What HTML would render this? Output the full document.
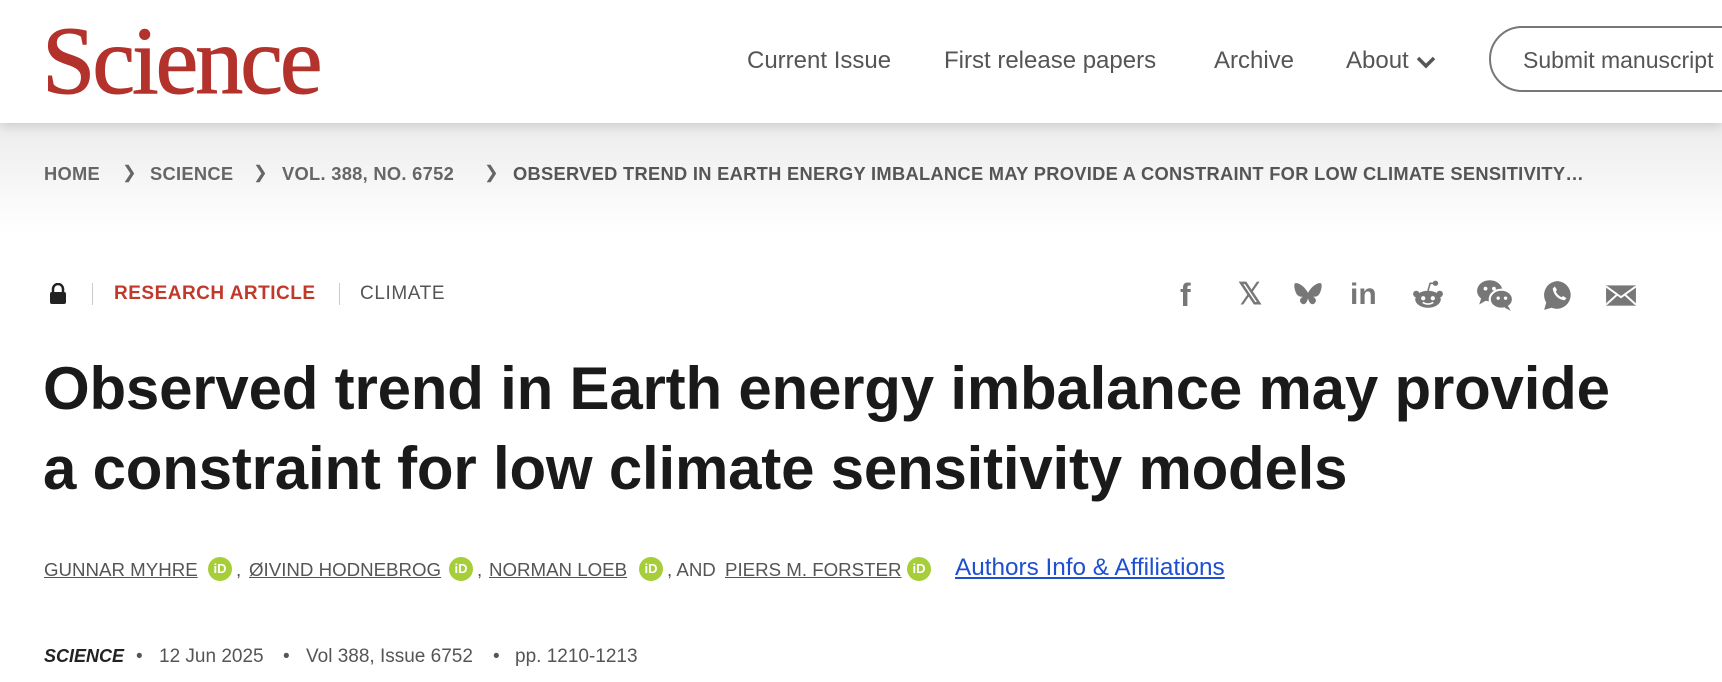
<!DOCTYPE html>
<html><head><meta charset="utf-8"><style>
*{margin:0;padding:0;box-sizing:border-box}
body{width:1722px;height:682px;overflow:hidden;background:#fff;font-family:"Liberation Sans",sans-serif;position:relative}
.a{position:absolute;white-space:nowrap}
header{position:absolute;left:0;top:0;width:1722px;height:123px;background:#fff;box-shadow:0 4px 10px rgba(0,0,0,.12);z-index:2}
.band{position:absolute;left:0;top:123px;width:1722px;height:110px;background:linear-gradient(#ececec,#fff)}
.nav{font-size:24px;color:#555;top:47px}
.bc{font-size:18.3px;font-weight:bold;color:#666;top:163px;letter-spacing:.3px}
.chev{font-size:17.5px;color:#666;top:162px}
.auth{font-size:18.7px;color:#555;top:559px;text-decoration:underline}
.orc{width:24px;height:24px;border-radius:50%;background:#a6ce39;color:#fff;font-size:13px;font-weight:bold;text-align:center;line-height:24px;top:557px}
.meta{font-size:19px;color:#555;top:646px}
.ic{top:279px;width:32px;height:32px}
</style></head><body>
<header>
<div class="a" style="left:42px;top:9px;font-family:'Liberation Serif',serif;font-size:96px;color:#b3322c;letter-spacing:-3px;line-height:104px;-webkit-text-stroke:1px #b3322c">Science</div>
<div class="a nav" style="left:747px">Current Issue</div>
<div class="a nav" style="left:944px">First release papers</div>
<div class="a nav" style="left:1214px">Archive</div>
<div class="a nav" style="left:1346px">About <svg width="22" height="14" viewBox="0 0 22 14" style="vertical-align:middle"><path d="M3 3l8 8 8-8" stroke="#555" stroke-width="3.5" fill="none"/></svg></div>
<div class="a" style="left:1489px;top:26px;width:280px;height:66px;border:2px solid #777;border-radius:33px;font-size:23px;color:#555;padding:19px 0 0 32px">Submit manuscript</div>
</header>
<div class="band"></div>
<div class="a bc" style="left:44px">HOME</div>
<div class="a chev" style="left:122px">❯</div>
<div class="a bc" style="left:150px">SCIENCE</div>
<div class="a chev" style="left:253px">❯</div>
<div class="a bc" style="left:282px">VOL. 388, NO. 6752</div>
<div class="a chev" style="left:484px">❯</div>
<div class="a bc" style="left:513px;color:#555">OBSERVED TREND IN EARTH ENERGY IMBALANCE MAY PROVIDE A CONSTRAINT FOR LOW CLIMATE SENSITIVITY…</div>

<svg class="a" style="left:49px;top:283px" width="18" height="22" viewBox="0 0 18 22"><path d="M4 10V6a5 5 0 0 1 10 0v4" stroke="#222" stroke-width="2.5" fill="none"/><rect x="1" y="9" width="16" height="12" rx="2" fill="#222"/></svg>
<div class="a" style="left:92px;top:283px;width:1px;height:22px;background:#ccc"></div>
<div class="a" style="left:114px;top:283px;font-size:19px;font-weight:bold;color:#c0392b;letter-spacing:.5px">RESEARCH ARTICLE</div>
<div class="a" style="left:339px;top:283px;width:1px;height:22px;background:#ccc"></div>
<div class="a" style="left:360px;top:283px;font-size:19px;color:#555;letter-spacing:.6px">CLIMATE</div>

<div class="a ic" style="left:1180px;font-size:32px;color:#777;font-weight:bold;line-height:32px">f</div>
<div class="a ic" style="left:1238px;font-size:30px;color:#777;line-height:32px;font-weight:bold">𝕏</div>
<svg class="a ic" style="left:1292px" viewBox="0 0 30 30"><path d="M15 13C12 7 6 3 3 4c-2 1 0 9 2 11 2 2 5 2 7 1-4 1-6 4-3 7 3 2 5-1 6-5 1 4 3 7 6 5 3-3 1-6-3-7 2 1 5 1 7-1 2-2 4-10 2-11-3-1-9 3-12 9z" fill="#777"/></svg>
<div class="a ic" style="left:1350px;font-size:30px;color:#777;font-weight:bold;line-height:32px">in</div>
<svg class="a ic" style="left:1412px" viewBox="0 0 30 30"><ellipse cx="15" cy="19" rx="12" ry="8" fill="#777"/><circle cx="22" cy="4" r="2.5" fill="#777"/><path d="M15 11L17 4h5" stroke="#777" stroke-width="1.5" fill="none"/><circle cx="4" cy="14" r="3" fill="#777"/><circle cx="26" cy="14" r="3" fill="#777"/><circle cx="10.5" cy="18" r="2" fill="#fff"/><circle cx="19.5" cy="18" r="2" fill="#fff"/><path d="M10 22q5 3 10 0" stroke="#fff" stroke-width="1.5" fill="none"/></svg>
<svg class="a ic" style="left:1476px;width:38px" viewBox="0 0 36 30"><ellipse cx="13" cy="11" rx="12" ry="10" fill="#777"/><path d="M5 18l-2 6 7-4z" fill="#777"/><ellipse cx="24" cy="19" rx="11" ry="9" fill="#777" stroke="#fff" stroke-width="2"/><path d="M30 25l3 5-6-3z" fill="#777"/><circle cx="9" cy="9" r="1.8" fill="#fff"/><circle cx="17" cy="9" r="1.8" fill="#fff"/><circle cx="21" cy="18" r="1.6" fill="#fff"/><circle cx="28" cy="18" r="1.6" fill="#fff"/></svg>
<svg class="a ic" style="left:1542px" viewBox="0 0 30 30"><path d="M15 2a13 13 0 0 0-11 20l-2 7 7-2A13 13 0 1 0 15 2z" fill="#777"/><path d="M10 9c1 6 5 10 11 11l2-2-3-2-2 1c-2-1-4-3-5-5l1-2-2-3z" fill="#fff"/></svg>
<svg class="a ic" style="left:1605px" viewBox="0 0 30 30"><rect x="1" y="6" width="28" height="19" fill="#777"/><path d="M1 7l14 10 14-10M1 24l10-9M29 24l-10-9" stroke="#fff" stroke-width="1.8" fill="none"/></svg>

<h1 class="a" style="left:43px;top:349px;font-size:60px;line-height:80px;font-weight:bold;color:#1a1a1a;white-space:normal;width:1680px;letter-spacing:-.2px">Observed trend in Earth energy imbalance may provide<br>a constraint for low climate sensitivity models</h1>

<div class="a auth" style="left:44px">GUNNAR MYHRE</div>
<div class="a orc" style="left:208px">iD</div>
<div class="a auth" style="left:236px;text-decoration:none">,</div>
<div class="a auth" style="left:249px">ØIVIND HODNEBROG</div>
<div class="a orc" style="left:449px">iD</div>
<div class="a auth" style="left:477px;text-decoration:none">,</div>
<div class="a auth" style="left:489px">NORMAN LOEB</div>
<div class="a orc" style="left:639px">iD</div>
<div class="a auth" style="left:667px;text-decoration:none">, AND</div>
<div class="a auth" style="left:725px">PIERS M. FORSTER</div>
<div class="a orc" style="left:907px">iD</div>
<div class="a" style="left:955px;top:554px;font-size:24.3px;color:#1d4fd0;text-decoration:underline">Authors Info &amp; Affiliations</div>

<div class="a meta" style="left:44px;font-size:18px;font-weight:bold;font-style:italic;color:#222">SCIENCE</div>
<div class="a meta" style="left:136px">•</div>
<div class="a meta" style="left:159px">12 Jun 2025</div>
<div class="a meta" style="left:283px">•</div>
<div class="a meta" style="left:306px">Vol 388, Issue 6752</div>
<div class="a meta" style="left:493px">•</div>
<div class="a meta" style="left:515px">pp. 1210-1213</div>
</body></html>
